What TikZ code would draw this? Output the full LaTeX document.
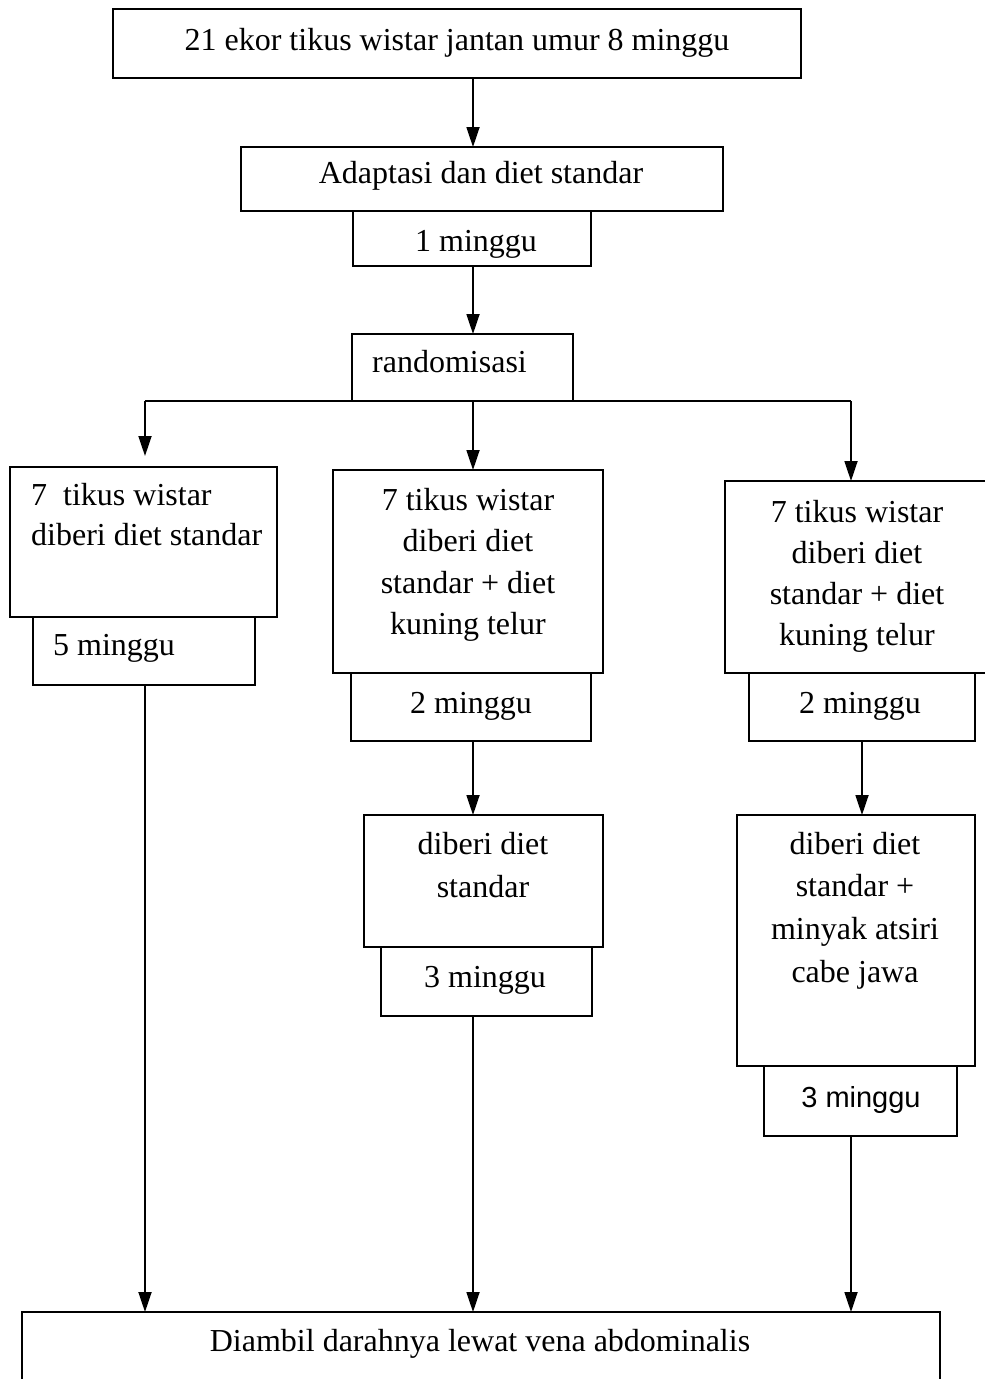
\documentclass[tikz,border=0pt]{standalone}
\usepackage{fontspec}
\setmainfont{Liberation Serif}
\newfontfamily\sansf{Liberation Sans}
\usetikzlibrary{arrows.meta}
\newcommand\mlc[1]{\begin{tabular}[t]{@{}c@{}}#1\end{tabular}}
\newcommand\mll[1]{\begin{tabular}[t]{@{}l@{}}#1\end{tabular}}
\begin{document}
\begin{tikzpicture}[x=1pt,y=-1pt,
  box/.style={draw, line width=1.8pt, inner sep=0pt, outer sep=0pt, anchor=north west},
  arr/.style={line width=1.8pt, -{Triangle[length=20pt,width=13pt]}},
  ln/.style={line width=1.8pt},
  txt/.style={inner sep=0pt, anchor=base, font=\fontsize{32}{41.5}\selectfont},
  ]
\useasboundingbox (0,0) rectangle (985,1379);
\fill[white] (0,0) rectangle (985,1379);
% boxes
\node[box, minimum width=688pt, minimum height=69pt] (b1) at (113,9) {};
\node[box, minimum width=482pt, minimum height=64pt] (b2) at (241,147) {};
\node[box, minimum width=238pt, minimum height=55pt] (b3) at (353,211) {};
\node[box, minimum width=221pt, minimum height=67pt] (b4) at (352,334) {};
\node[box, minimum width=267pt, minimum height=150pt] (l1) at (10,467) {};
\node[box, minimum width=222pt, minimum height=68pt] (l2) at (33,617) {};
\node[box, minimum width=270pt, minimum height=203pt] (m1) at (333,470) {};
\node[box, minimum width=240pt, minimum height=68pt] (m2) at (351,673) {};
\node[box, minimum width=239pt, minimum height=132pt] (m3) at (364,815) {};
\node[box, minimum width=211pt, minimum height=69pt] (m4) at (381,947) {};
\node[box, minimum width=270pt, minimum height=192pt] (r1) at (725,481) {};
\node[box, minimum width=226pt, minimum height=68pt] (r2) at (749,673) {};
\node[box, minimum width=238pt, minimum height=251pt] (r3) at (737,815) {};
\node[box, minimum width=193pt, minimum height=70pt] (r4) at (764,1066) {};
\node[box, minimum width=918pt, minimum height=100pt] (fin) at (22,1312) {};
% texts
\node[txt] (t1) at (457,50) {21 ekor tikus wistar jantan umur 8 minggu};
\node[txt] (t2) at (481,183) {Adaptasi dan diet standar};
\node[txt] (t3) at (476,251) {1 minggu};
\node[txt, anchor=base west] (t4) at (372,372) {randomisasi};
\node[txt, anchor=base west, font=\fontsize{32}{40}\selectfont] (tl) at (31,505) {\mll{7\ \ tikus wistar\\diberi diet standar}};
\node[txt, anchor=base west] (t5) at (53,655) {5 minggu};
\node[txt] (tm) at (468,510) {\mlc{7 tikus wistar\\diberi diet\\standar + diet\\kuning telur}};
\node[txt] (t6) at (471,713) {2 minggu};
\node[txt, font=\fontsize{32}{43}\selectfont] (tm2) at (483,854) {\mlc{diberi diet\\standar}};
\node[txt] (t7) at (485,987) {3 minggu};
\node[txt, font=\fontsize{32}{41}\selectfont] (tr) at (857,522) {\mlc{7 tikus wistar\\diberi diet\\standar + diet\\kuning telur}};
\node[txt] (t8) at (860,713) {2 minggu};
\node[txt, font=\fontsize{32}{42.7}\selectfont] (tr2) at (855,854) {\mlc{diberi diet\\standar +\\minyak atsiri\\cabe jawa}};
\node[txt, font=\fontsize{29}{34}\sansf] (t9) at (861,1107) {3 minggu};
\node[txt] (tf) at (480,1351) {Diambil darahnya lewat vena abdominalis};
% guide x positions
\coordinate (xm) at (473,0);
\coordinate (xl) at (145,0);
\coordinate (xr) at (851,0);
\coordinate (xr2) at (862,0);
\coordinate (sp) at (b4.south -| xm);
% connectors
\draw[arr] (b1.south -| xm) -- (b2.north -| xm);
\draw[arr] (b3.south -| xm) -- (b4.north -| xm);
\draw[ln] (sp -| xl) -- (sp -| xr);
\draw[arr] (sp -| xl) -- ([yshift=11pt]l1.north -| xl);
\draw[arr] (sp) -- (m1.north -| xm);
\draw[arr] (sp -| xr) -- (r1.north -| xr);
\draw[arr] (m2.south -| xm) -- (m3.north -| xm);
\draw[arr] (r2.south -| xr2) -- (r3.north -| xr2);
\draw[arr] (l2.south -| xl) -- (fin.north -| xl);
\draw[arr] (m4.south -| xm) -- (fin.north -| xm);
\draw[arr] (r4.south -| xr) -- (fin.north -| xr);
\end{tikzpicture}
\end{document}
